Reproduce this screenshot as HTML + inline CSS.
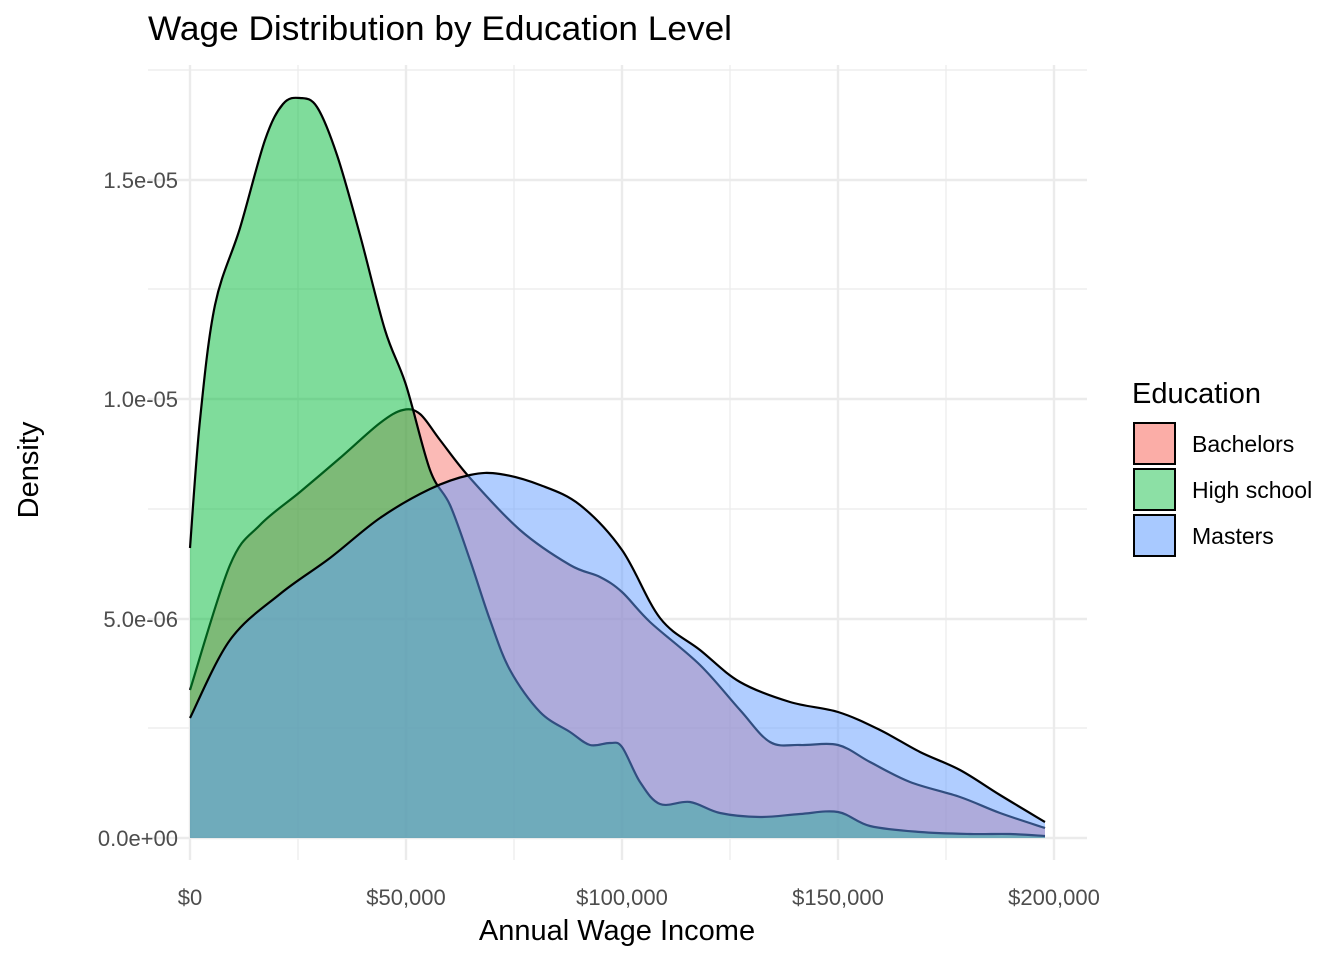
<!DOCTYPE html>
<html><head><meta charset="utf-8"><style>
body{margin:0;background:#fff}
svg{display:block;font-family:"Liberation Sans",Arial,sans-serif}
</style></head><body>
<svg id="s" width="1344" height="960" xmlns="http://www.w3.org/2000/svg">
<g stroke="#ebebeb" stroke-width="1.2">
<line x1="148" x2="1087" y1="70" y2="70"/><line x1="148" x2="1087" y1="289" y2="289"/>
<line x1="148" x2="1087" y1="509" y2="509"/><line x1="148" x2="1087" y1="728" y2="728"/>
<line y1="65" y2="860" x1="298" x2="298"/><line y1="65" y2="860" x1="514" x2="514"/>
<line y1="65" y2="860" x1="730" x2="730"/><line y1="65" y2="860" x1="946" x2="946"/>
</g>
<g stroke="#ebebeb" stroke-width="2.4">
<line x1="148" x2="1087" y1="180" y2="180"/><line x1="148" x2="1087" y1="399" y2="399"/>
<line x1="148" x2="1087" y1="619" y2="619"/><line x1="148" x2="1087" y1="838" y2="838"/>
<line y1="65" y2="860" x1="190" x2="190"/><line y1="65" y2="860" x1="406" x2="406"/>
<line y1="65" y2="860" x1="622" x2="622"/><line y1="65" y2="860" x1="838" x2="838"/>
<line y1="65" y2="860" x1="1054" x2="1054"/>
</g>
<g id="curves"></g>
<text x="148" y="40" font-size="34" textLength="584" lengthAdjust="spacingAndGlyphs" fill="#000">Wage Distribution by Education Level</text>
<g font-size="22" fill="#4d4d4d" text-anchor="end">
<text x="178" y="188">1.5e-05</text><text x="178" y="407">1.0e-05</text>
<text x="178" y="627">5.0e-06</text><text x="178" y="846">0.0e+00</text>
</g>
<g font-size="22" fill="#4d4d4d" text-anchor="middle">
<text x="190" y="905">$0</text><text x="406" y="905">$50,000</text>
<text x="622" y="905">$100,000</text><text x="838" y="905">$150,000</text>
<text x="1054" y="905">$200,000</text>
</g>
<text x="617" y="940" font-size="29" text-anchor="middle">Annual Wage Income</text>
<text transform="translate(38,470) rotate(-90)" font-size="29" text-anchor="middle">Density</text>
<text x="1132" y="403" font-size="29">Education</text>
<g stroke="#000" stroke-width="2">
<rect x="1134" y="423" width="41" height="41" fill="#F8766D" fill-opacity="0.6"/>
<rect x="1134" y="469" width="41" height="41" fill="#00BA38" fill-opacity="0.45"/>
<rect x="1134" y="515" width="41" height="41" fill="#619CFF" fill-opacity="0.55"/>
</g>
<g font-size="23"><text x="1192" y="452">Bachelors</text><text x="1192" y="498">High school</text><text x="1192" y="544">Masters</text></g>
</svg>
<script>
function cr(p){let d="M"+p[0][0]+","+p[0][1];for(let i=0;i<p.length-1;i++){const a=p[i-1]||p[i],b=p[i],c=p[i+1],e=p[i+2]||c;
d+=" C"+(b[0]+(c[0]-a[0])/6)+","+(b[1]+(c[1]-a[1])/6)+" "+(c[0]-(e[0]-b[0])/6)+","+(c[1]-(e[1]-b[1])/6)+" "+c[0]+","+c[1];}return d;}
const B=[[190,690],[230,565],[260,525],[300,492],[340,458],[380,423],[403,410],[420,414],[440,440],[470,478],[520,530],[570,565],[600,577],[622,592],[650,622],[700,665],[740,710],[770,742],[800,745],[838,745],[870,762],[910,782],[960,797],[1000,813],[1045,828]];
const H=[[190,548],[200,420],[215,305],[240,228],[265,140],[283,104],[300,98],[317,107],[337,155],[360,235],[385,330],[406,385],[430,470],[450,505],[470,560],[490,620],[510,670],[540,712],[570,732],[590,745],[610,743],[622,747],[640,782],[660,804],[690,802],[720,813],[760,817],[800,814],[838,812],[870,826],[920,832],[970,834],[1010,834],[1045,836]];
const M=[[190,718],[230,640],[280,594],[330,558],[380,518],[430,489],[470,475],[500,474],[540,485],[580,505],[622,550],[660,618],[700,650],[740,682],[790,702],[838,712],[880,730],[920,752],[960,770],[1000,795],[1045,822]];
const g=document.getElementById("curves");
[[B,"#F8766D"],[H,"#00BA38"],[M,"#619CFF"]].forEach(([p,c])=>{
const l=cr(p);const f=document.createElementNS("http://www.w3.org/2000/svg","path");
f.setAttribute("d",l+" L"+p[p.length-1][0]+",838 L190,838 Z");f.setAttribute("fill",c);f.setAttribute("fill-opacity","0.5");g.appendChild(f);
const s=document.createElementNS("http://www.w3.org/2000/svg","path");s.setAttribute("d",l);s.setAttribute("fill","none");s.setAttribute("stroke","#000");s.setAttribute("stroke-width","2.2");g.appendChild(s);});
</script>
</body></html>
